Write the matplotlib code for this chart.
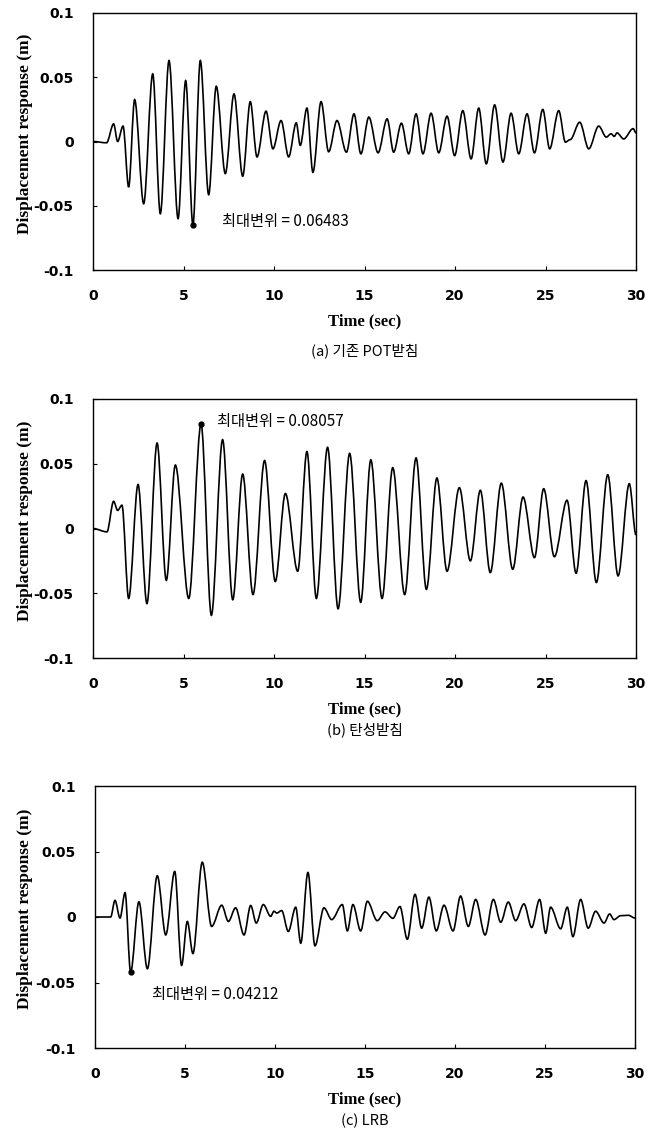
import numpy as np
import matplotlib
matplotlib.use("Agg")
import matplotlib.pyplot as plt
from matplotlib.path import Path
from matplotlib.patches import PathPatch

# turning points of each displacement history (time s, displacement m)
t_a = [0.00, 0.75, 1.14, 1.36, 1.66, 1.97, 2.30, 2.80,
       3.30, 3.72, 4.20, 4.70, 5.12, 5.52, 5.93, 6.39,
       6.81, 7.31, 7.79, 8.27, 8.69, 9.06, 9.56, 9.94,
       10.39, 10.81, 11.23, 11.45, 11.82, 12.15, 12.60, 13.02,
       13.48, 14.00, 14.42, 14.80, 15.24, 15.75, 16.25, 16.61,
       17.04, 17.44, 17.85, 18.23, 18.68, 19.10, 19.56, 19.98,
       20.43, 20.89, 21.31, 21.73, 22.19, 22.65, 23.10, 23.52,
       23.98, 24.39, 24.85, 25.23, 25.73, 26.10, 26.37, 26.89,
       27.39, 27.94, 28.36, 28.62, 28.80, 28.95, 29.32, 29.84,
       30.00]
d_a = [0.0, -0.001, 0.0137, 0.0, 0.012, -0.0355, 0.0326, -0.0484,
       0.0526, -0.0562, 0.063, -0.060, 0.0474, -0.06483, 0.063, -0.0414,
       0.043, -0.025, 0.037, -0.027, 0.031, -0.012, 0.0236, -0.0057,
       0.0163, -0.012, 0.0145, -0.003, 0.026, -0.024, 0.031, -0.008,
       0.0163, -0.0083, 0.0215, -0.0096, 0.019, -0.0088, 0.0176, -0.0083,
       0.0142, -0.0096, 0.0215, -0.0096, 0.022, -0.0088, 0.0197, -0.011,
       0.024, -0.0135, 0.026, -0.0174, 0.0285, -0.016, 0.022, -0.0096,
       0.0215, -0.0088, 0.025, -0.0057, 0.024, -0.0005, 0.0015, 0.015,
       -0.0057, 0.012, 0.0034, 0.006, 0.004, 0.0067, 0.002, 0.010,
       0.0067]

t_b = [0.00, 0.77, 1.14, 1.36, 1.60, 1.97, 2.49, 2.98,
       3.54, 4.05, 4.55, 5.29, 5.97, 6.54, 7.16, 7.72,
       8.27, 8.84, 9.48, 10.07, 10.63, 11.31, 11.82, 12.34,
       12.96, 13.54, 14.18, 14.79, 15.35, 15.97, 16.56, 17.22,
       17.85, 18.42, 19.00, 19.56, 20.24, 20.85, 21.40, 21.95,
       22.56, 23.19, 23.76, 24.39, 24.90, 25.49, 26.19, 26.69,
       27.24, 27.81, 28.44, 29.01, 29.63, 30.00]
d_b = [0.0, -0.0026, 0.021, 0.014, 0.018, -0.054, 0.034, -0.058,
       0.066, -0.040, 0.049, -0.054, 0.08057, -0.067, 0.0686, -0.055,
       0.042, -0.051, 0.0525, -0.041, 0.027, -0.033, 0.0594, -0.054,
       0.0627, -0.062, 0.058, -0.057, 0.053, -0.054, 0.047, -0.051,
       0.0545, -0.047, 0.039, -0.033, 0.0315, -0.025, 0.0295, -0.034,
       0.035, -0.0315, 0.0243, -0.0225, 0.0307, -0.0218, 0.0218, -0.0346,
       0.037, -0.0417, 0.0415, -0.0366, 0.0346, -0.005]

t_c = [0.00, 0.87, 1.11, 1.39, 1.67, 1.98, 2.44, 2.91,
       3.46, 3.93, 4.43, 4.81, 5.13, 5.44, 5.96, 6.48,
       7.04, 7.41, 7.81, 8.28, 8.65, 8.96, 9.35, 9.76,
       9.94, 10.10, 10.37, 10.74, 11.15, 11.43, 11.83, 12.22,
       12.72, 13.15, 13.74, 14.02, 14.33, 14.76, 15.13, 15.68,
       16.11, 16.55, 16.94, 17.35, 17.78, 18.15, 18.55, 18.96,
       19.39, 19.89, 20.31, 20.74, 21.15, 21.67, 22.13, 22.54,
       22.96, 23.37, 23.83, 24.26, 24.70, 25.04, 25.31, 25.87,
       26.24, 26.55, 26.98, 27.40, 27.81, 28.28, 28.59, 28.83,
       29.20, 29.63, 30.00]
d_c = [0.0, 0.0, 0.0127, -0.0008, 0.0186, -0.04212, 0.0116, -0.0395,
       0.0315, -0.0137, 0.0348, -0.0369, -0.0034, -0.0279, 0.0418, -0.0072,
       0.009, -0.0034, 0.007, -0.0137, 0.0088, -0.0046, 0.0095, 0.0005,
       0.0044, 0.003, 0.0049, -0.011, 0.0075, -0.020, 0.034, -0.022,
       0.007, -0.002, 0.0095, -0.0106, 0.0095, -0.0106, 0.012, -0.0028,
       0.0039, -0.001, 0.008, -0.017, 0.0173, -0.0085, 0.0152, -0.0106,
       0.009, -0.0106, 0.016, -0.0072, 0.0134, -0.0137, 0.0134, -0.004,
       0.0114, -0.0028, 0.010, -0.008, 0.0134, -0.0124, 0.0075, -0.009,
       0.0075, -0.015, 0.0134, -0.0085, 0.0044, -0.0046, 0.0023, -0.002,
       0.001, 0.0013, -0.0008]

captions = ["(a) 기존 POT받침", "(b) 탄성받침", "(c) LRB"]
# where the "max displacement" note starts (time, displacement)
note_t = [7.1, 6.85, 3.15]
note_d = [-0.0625, 0.083, -0.059]

xticks = [0, 5, 10, 15, 20, 25, 30]
yticks = [-0.1, -0.05, 0, 0.05, 0.1]
ylabels = ["-0.1", "-0.05", "0", "0.05", "0.1"]

W, H = 647, 1142
# axes boxes in pixels: left, top, right, bottom
boxes = [(93, 13, 636, 270), (93, 399, 636, 658), (95, 786, 635, 1048)]
cap_y = [351, 730, 1121]

KR = ["Noto Sans CJK KR", "DejaVu Sans"]


def smooth_path(t, d):
    """cubic segments with flat tangents at every turning point"""
    verts, codes = [(t[0], d[0])], [Path.MOVETO]
    for i in range(len(t) - 1):
        dt = t[i + 1] - t[i]
        verts += [(t[i] + dt / 3, d[i]), (t[i + 1] - dt / 3, d[i + 1]), (t[i + 1], d[i + 1])]
        codes += [Path.CURVE4] * 3
    return Path(verts, codes)


fig = plt.figure(figsize=(W / 100, H / 100), dpi=100)

for k, (t, d) in enumerate([(t_a, d_a), (t_b, d_b), (t_c, d_c)]):
    l, tp, r, b = boxes[k]
    ax = fig.add_axes([l / W, 1 - b / H, (r - l) / W, (b - tp) / H])
    ax.add_patch(PathPatch(smooth_path(t, d), fill=False, color="black", lw=1.2))
    i = int(np.argmax(np.abs(d)))
    ax.plot(t[i], d[i], "o", color="black", ms=3.5)
    ax.text(note_t[k], note_d[k], f"최대변위 = {abs(d[i]):.5f}", family=KR,
            fontsize=11, va="center", ha="left")
    ax.set_xlim(0, 30)
    ax.set_ylim(-0.1, 0.1)
    ax.set_xticks(xticks)
    ax.set_yticks(yticks)
    ax.set_yticklabels(ylabels)
    ax.tick_params(direction="in", length=3, width=0.8, labelsize=10, pad=14)
    for lab in ax.get_xticklabels() + ax.get_yticklabels():
        lab.set_fontweight("bold")
    for s in ax.spines.values():
        s.set_linewidth(1.0)
    ax.set_xlabel("Time (sec)", family="Liberation Serif", fontweight="bold",
                  fontsize=12, labelpad=7)
    ax.set_ylabel("Displacement response (m)", family="Liberation Serif",
                  fontweight="bold", fontsize=12.5)
    ax.yaxis.set_label_coords(-(l - 33) / (r - l), 0.53)
    fig.text(0.5 * (l + r) / W, 1 - cap_y[k] / H, captions[k], family=KR,
             fontsize=10.5, ha="center", va="center")

fig.savefig("out.png", dpi=100)
